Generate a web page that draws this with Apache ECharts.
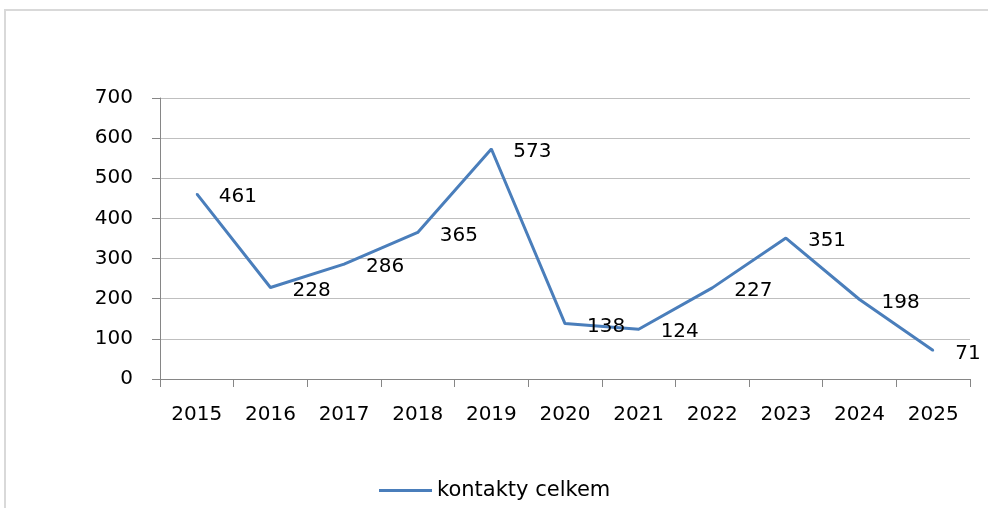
<!DOCTYPE html>
<html>
<head>
<meta charset="utf-8">
<script src="https://cdn.jsdelivr.net/npm/echarts@6/dist/echarts.min.js"></script>
<style>
  html, body { margin: 0; padding: 0; background: #fff; }
  #chart { width: 988px; height: 508px; }
</style>
</head>
<body>
<div id="chart"></div>
<script>
var years = ['2015', '2016', '2017', '2018', '2019', '2020', '2021', '2022', '2023', '2024', '2025'];
var kontakty = [461, 228, 286, 365, 573, 138, 124, 227, 351, 198, 71];
var seriesName = 'kontakty celkem';

var fontFamily = "'DejaVu Sans', sans-serif";
var blue = '#4a7ebb';
var frameColor = '#d9d9d9';

var chart = echarts.init(document.getElementById('chart'), null, {renderer: 'canvas'});
var option = {
    animation: false,
    textStyle: {fontFamily: fontFamily},
    // outer frame of the chart area, only top and left edges are visible
    graphic: [
        {type: 'line', silent: true, shape: {x1: 4.5, y1: 10, x2: 988, y2: 10}, style: {stroke: frameColor, lineWidth: 2}},
        {type: 'line', silent: true, shape: {x1: 5, y1: 9, x2: 5, y2: 508}, style: {stroke: frameColor, lineWidth: 2}}
    ],
    grid: {left: 160, right: 18, top: 98, bottom: 129},
    legend: {
        left: 379,
        top: 480,
        padding: 0,
        icon: 'rect',
        itemWidth: 53,
        itemHeight: 3,
        textStyle: {fontSize: 21, color: '#000', fontFamily: fontFamily},
        data: [seriesName]
    },
    xAxis: {
        type: 'category',
        data: years,
        boundaryGap: true,
        axisLine: {lineStyle: {color: '#868686', width: 1}},
        axisTick: {show: true, length: 8, lineStyle: {color: '#868686'}},
        axisLabel: {fontSize: 20, color: '#000', margin: 26}
    },
    yAxis: {
        type: 'value',
        min: 0,
        max: 700,
        interval: 100,
        axisLine: {show: true, lineStyle: {color: '#868686', width: 1}},
        axisTick: {show: true, length: 8, lineStyle: {color: '#868686'}},
        axisLabel: {fontSize: 20, color: '#000', margin: 27},
        splitLine: {lineStyle: {color: '#bfbfbf', width: 1}}
    },
    series: [{
        name: seriesName,
        type: 'line',
        data: kontakty,
        symbol: 'circle',
        symbolSize: 2,
        showSymbol: true,
        itemStyle: {color: blue},
        lineStyle: {color: blue, width: 3},
        label: {
            show: true,
            position: 'right',
            distance: 21,
            offset: [0, 3],
            fontSize: 20,
            color: '#000'
        }
    }]
};
chart.setOption(option);
</script>
</body>
</html>
